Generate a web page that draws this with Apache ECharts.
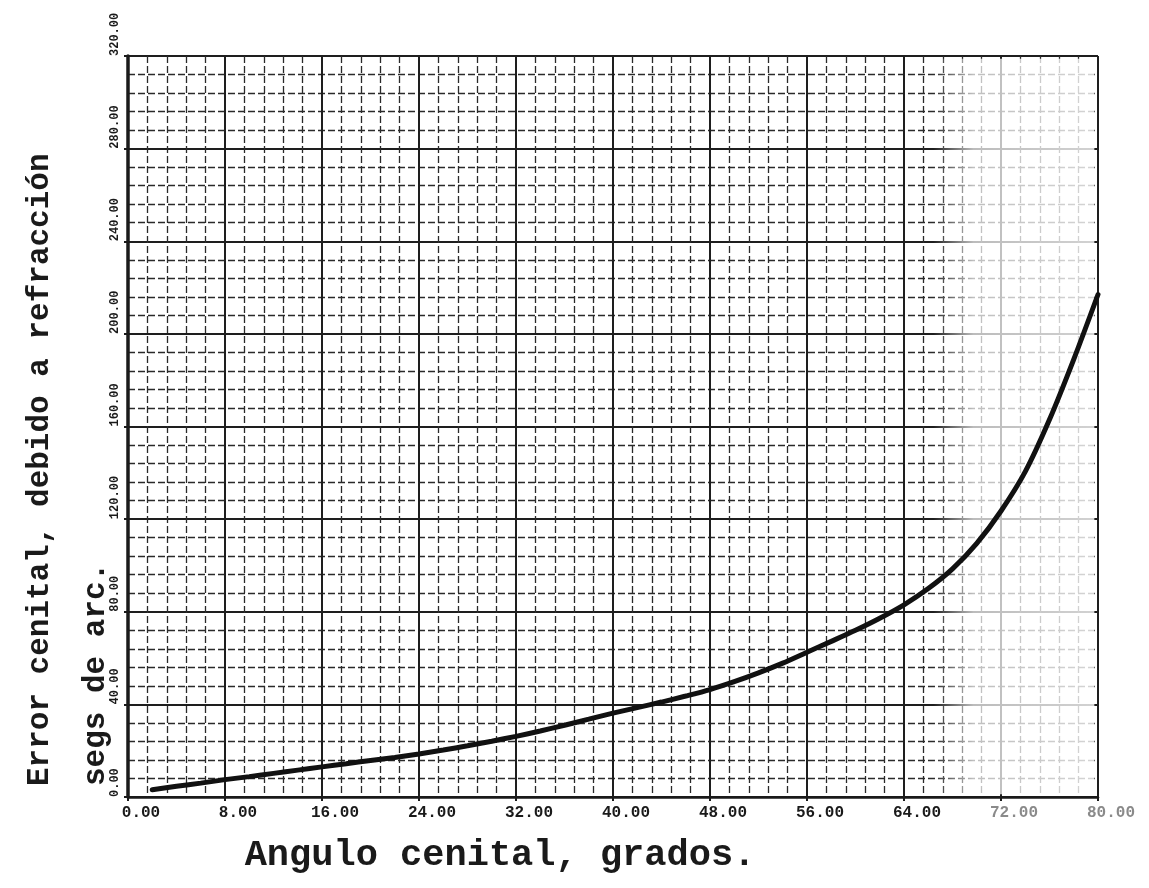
<!DOCTYPE html>
<html>
<head>
<meta charset="utf-8">
<script src="https://cdn.jsdelivr.net/npm/echarts@6/dist/echarts.min.js"></script>
<style>
  html, body { margin: 0; padding: 0; background: #ffffff; }
  #chart { width: 1149px; height: 888px; }
</style>
</head>
<body>
<div id="chart"></div>
<script>
// Data (every 2 degrees)
const angleDeg = [2, 4, 6, 8, 10, 12, 14, 16, 18, 20, 22, 24, 26, 28, 30, 32, 34, 36, 38, 40,
                  42, 44, 46, 48, 50, 52, 54, 56, 58, 60, 62, 64, 66, 68, 70, 72, 74, 76, 78, 80];
const errorSec = [3.1, 4.6, 6.0, 7.5, 8.8, 10.2, 11.6, 13.0, 14.4, 15.8, 17.1, 18.6, 20.3, 22.1, 24.1, 26.2, 28.5, 31.0, 33.6, 36.2,
                  38.6, 41.0, 43.6, 46.4, 49.8, 53.6, 57.8, 62.5, 67.2, 72.0, 77.2, 83.0, 90.0, 98.5, 109.5, 123.5, 140.5, 163.0, 189.0, 217.0];
const xTitle = 'Angulo cenital, grados.';
const yTitleLines = ['Error cenital, debido a refracción', 'segs de arc.'];
const fadedFrom = 66.4; // the photocopy fades to the right of this angle

const seriesData = angleDeg.map((a, i) => [a, errorSec[i]]);

const chart = echarts.init(document.getElementById('chart'));
const ink = '#1a1a1a';
const mono = '"Liberation Mono", "DejaVu Sans Mono", monospace';

chart.setOption({
  animation: false,
  backgroundColor: '#ffffff',
  grid: { left: 128, right: 51, top: 56, bottom: 91, show: false },
  xAxis: {
    type: 'value', min: 0, max: 80, interval: 8,
    axisLine: { show: true, lineStyle: { color: ink, width: 2.5 } },
    axisTick: { show: true, length: 4, lineStyle: { color: ink, width: 2 } },
    minorTick: { show: false, splitNumber: 5 },
    splitLine: { show: true, lineStyle: { color: '#1e1e1e', width: 2 } },
    minorSplitLine: { show: true, lineStyle: { color: '#2a2a2a', width: 1.3, type: [7, 3] } },
    axisLabel: {
      margin: 8,
      fontFamily: mono, fontWeight: 'bold', fontSize: 16, color: ink,
      padding: [0, 0, 0, 26],
      formatter: v => (v >= 72 ? '{f|' + v.toFixed(2) + '}' : v.toFixed(2)),
      rich: { f: { color: '#8a8a8a', fontFamily: mono, fontWeight: 'bold', fontSize: 16 } }
    },
    name: xTitle,
    nameLocation: 'middle',
    nameGap: 40,
    nameTextStyle: { fontFamily: mono, fontWeight: 'bold', fontSize: 37, color: ink, padding: [0, 226, 0, 0] }
  },
  yAxis: {
    type: 'value', min: 0, max: 320, interval: 40,
    axisLine: { show: true, lineStyle: { color: ink, width: 3.5 } },
    axisTick: { show: true, length: 4, lineStyle: { color: ink, width: 2 } },
    minorTick: { show: false, splitNumber: 5 },
    splitLine: { show: true, lineStyle: { color: '#1e1e1e', width: 2 } },
    minorSplitLine: { show: true, lineStyle: { color: '#2a2a2a', width: 1.3, type: [7, 3] } },
    axisLabel: {
      rotate: 90, margin: 7, align: 'left', verticalAlign: 'bottom',
      fontFamily: mono, fontWeight: 'bold', fontSize: 12, color: ink,
      formatter: v => v.toFixed(2)
    }
  },
  graphic: [{
    type: 'text',
    x: 68, y: 786,
    rotation: Math.PI / 2,
    style: {
      text: yTitleLines.join('\n'),
      fill: ink,
      font: 'bold 31px ' + mono,
      lineHeight: 56,
      textAlign: 'left',
      textVerticalAlign: 'middle'
    }
  }],
  series: [{
    type: 'line',
    data: seriesData,
    smooth: 0.3,
    showSymbol: false,
    symbol: 'none',
    lineStyle: { color: '#111111', width: 5, cap: 'round' },
    z: 3,
    markArea: {
      silent: true,
      itemStyle: {
        color: {
          type: 'linear', x: 0, y: 0, x2: 1, y2: 0,
          colorStops: [
            { offset: 0, color: 'rgba(255,255,255,0)' },
            { offset: 0.25, color: 'rgba(255,255,255,0.7)' },
            { offset: 1, color: 'rgba(255,255,255,0.8)' }
          ]
        }
      },
      data: [[{ xAxis: fadedFrom, yAxis: 1.2 }, { xAxis: 79.7, yAxis: 318.8 }]]
    }
  }]
});
</script>
</body>
</html>
